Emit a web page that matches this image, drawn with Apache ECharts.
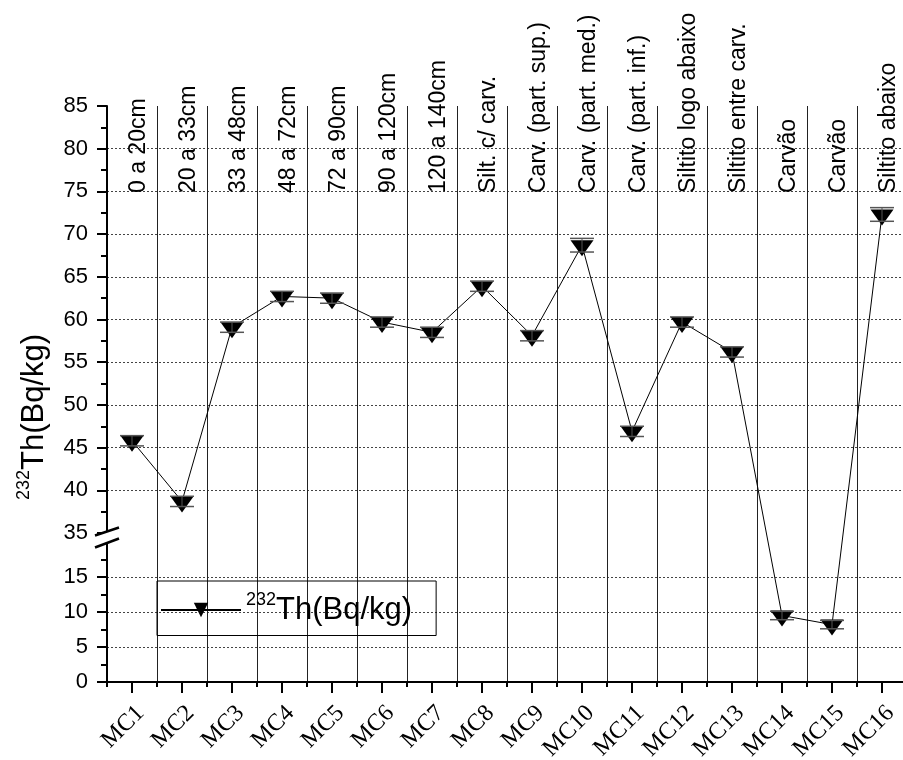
<!DOCTYPE html>
<html>
<head>
<meta charset="utf-8">
<title>232Th profile</title>
<script src="https://cdn.jsdelivr.net/npm/echarts@6.0.0/dist/echarts.min.js"></script>
<style>
  html, body { margin: 0; padding: 0; background: #fff; }
  #chart { width: 903px; height: 760px; }
</style>
</head>
<body>
<div id="chart"></div>
<script>
// samples and the layer each one comes from
const samples = ['MC1','MC2','MC3','MC4','MC5','MC6','MC7','MC8','MC9','MC10','MC11','MC12','MC13','MC14','MC15','MC16'];
const layers = ['0 a 20cm','20 a 33cm','33 a 48cm','48 a 72cm','72 a 90cm','90 a 120cm','120 a 140cm',
  'Silt. c/ carv.','Carv. (part. sup.)','Carv. (part. med.)','Carv. (part. inf.)',
  'Siltito logo abaixo','Siltito entre carv.','Carvão','Carvão','Siltito abaixo'];
const thValues = [45.8, 38.7, 59.1, 62.7, 62.5, 59.7, 58.5, 63.9, 58.1, 68.7, 46.9, 59.7, 56.2, 9.5, 8.2, 72.3];
const thErrors = [0.6, 0.6, 0.6, 0.6, 0.6, 0.6, 0.6, 0.6, 0.6, 0.8, 0.6, 0.6, 0.6, 0.6, 0.6, 0.8];

// broken y axis: two segments
const upperRange = [35, 85];
const lowerRange = [0, 20];
const tickStep = 5;

// layout (px)
const plotLeft = 107, plotWidth = 800;
const plotTop = 106, breakTop = 533, breakBottom = 542, plotBottom = 682;
const layerLabelY = 193;
const font = 'Liberation Sans';

// map a value onto the full-height hidden axis (px from bottom)
function brokenY(v) {
  const lowScale = (plotBottom - breakBottom) / (lowerRange[1] - lowerRange[0]);
  const upScale = (breakTop - plotTop) / (upperRange[1] - upperRange[0]);
  if (v <= lowerRange[1]) return (v - lowerRange[0]) * lowScale;
  return (plotBottom - breakTop) + (v - upperRange[0]) * upScale;
}

const chart = echarts.init(document.getElementById('chart'));

const yStyle = {
  axisLine: { show: true, lineStyle: { color: '#000', width: 2 } },
  axisTick: { show: true, inside: false, length: 10, lineStyle: { color: '#000', width: 2 } },
  minorTick: { show: true, splitNumber: 2, length: 6, lineStyle: { color: '#000', width: 2 } },
  axisLabel: { color: '#000', fontSize: 22, fontFamily: font, margin: 19 },
  splitLine: { show: true, showMinLine: false, showMaxLine: false,
    lineStyle: { type: [2, 2], color: '#444', width: 1 } }
};

const richTitle = {
  s: { fontSize: 18, fontFamily: font, color: '#000', fill: '#000', verticalAlign: 'top', lineHeight: 18 },
  m: { fontSize: 31, fontFamily: font, color: '#000', fill: '#000', lineHeight: 38 }
};

const sx = plotLeft, sy = (breakTop + breakBottom) / 2;

const option = {
  animation: false,
  backgroundColor: '#fff',
  grid: [
    { left: plotLeft, width: plotWidth, top: plotTop, height: plotBottom - plotTop, outerBoundsMode: 'none' },
    { left: plotLeft, width: plotWidth, top: plotTop, height: breakTop - plotTop, outerBoundsMode: 'none' },
    { left: plotLeft, width: plotWidth, top: breakBottom, height: plotBottom - breakBottom, outerBoundsMode: 'none' }
  ],
  xAxis: [
    {
      type: 'category', gridIndex: 0, data: samples, position: 'bottom',
      axisLine: { show: true, onZero: false, lineStyle: { color: '#000', width: 2 } },
      axisTick: { show: true, alignWithLabel: true, interval: 0, length: 11, lineStyle: { color: '#000', width: 2 } },
      axisLabel: { interval: 0, rotate: 45, margin: 19, verticalAlign: 'top',
        fontFamily: 'Liberation Serif', fontSize: 24, color: '#000' },
      splitLine: { show: true, interval: 0, showMinLine: false, lineStyle: { color: '#222', width: 1 } }
    },
    {
      type: 'category', gridIndex: 0, data: layers, position: 'top', offset: plotTop - layerLabelY,
      axisLine: { show: false }, axisTick: { show: false }, splitLine: { show: false },
      axisLabel: { interval: 0, rotate: 90, margin: 0, verticalAlign: 'top', lineHeight: 13,
        fontFamily: font, fontSize: 23, color: '#000' }
    },
    { type: 'category', gridIndex: 1, data: samples, show: false },
    {
      type: 'category', gridIndex: 2, data: samples,
      axisLine: { show: false },
      axisTick: { show: true, interval: 0, length: 5, lineStyle: { color: '#000', width: 2 } },
      axisLabel: { show: false }, splitLine: { show: false }
    }
  ],
  yAxis: [
    { type: 'value', gridIndex: 0, min: 0, max: plotBottom - plotTop, show: false },
    Object.assign({ type: 'value', gridIndex: 1, min: upperRange[0], max: upperRange[1], interval: tickStep }, yStyle),
    Object.assign({ type: 'value', gridIndex: 2, min: lowerRange[0], max: lowerRange[1], interval: tickStep }, yStyle, {
      axisLabel: Object.assign({}, yStyle.axisLabel, {
        formatter: v => (v === lowerRange[1] ? '' : String(v))
      })
    })
  ],
  legend: {
    left: 157, top: 581,
    padding: [10, 24, 10, 3],
    borderColor: '#000', borderWidth: 1, borderRadius: 0,
    itemWidth: 80, itemHeight: 18,
    data: ['Th232'],
    formatter: () => '{s|232}{m|Th(Bq/kg)}',
    textStyle: { color: '#000', rich: richTitle }
  },
  graphic: [
    {
      type: 'text', x: 34, y: 417, rotation: Math.PI / 2,
      style: { text: '{s|232}{m|Th(Bq/kg)}', rich: richTitle, align: 'center', verticalAlign: 'middle', fill: '#000' }
    },
    // axis break mark
    {
      type: 'polygon', z: 100,
      shape: { points: [[sx - 12, sy - 2], [sx + 12, sy - 10], [sx + 12, sy + 1], [sx - 12, sy + 10]] },
      style: { fill: '#fff' }
    },
    { type: 'line', z: 101, shape: { x1: sx - 12, y1: sy - 2, x2: sx + 12, y2: sy - 10 }, style: { stroke: '#000', lineWidth: 2.5 } },
    { type: 'line', z: 101, shape: { x1: sx - 12, y1: sy + 10, x2: sx + 12, y2: sy + 1 }, style: { stroke: '#000', lineWidth: 2.5 } }
  ],
  series: [
    {
      name: 'Th232',
      type: 'line',
      xAxisIndex: 0, yAxisIndex: 0,
      data: thValues.map(brokenY),
      symbol: 'path://M0,0L10,0L5,7Z',
      symbolSize: [23, 16],
      symbolOffset: [0, 3],
      showSymbol: true,
      lineStyle: { color: '#000', width: 1 },
      itemStyle: { color: '#000' },
      z: 3
    },
    {
      name: 'err',
      type: 'custom',
      xAxisIndex: 0, yAxisIndex: 0,
      z: 4,
      data: thValues.map((v, i) => [i, brokenY(v - thErrors[i]), brokenY(v + thErrors[i])]),
      encode: { x: 0, y: [1, 2] },
      renderItem: function (params, api) {
        const lo = api.coord([api.value(0), api.value(1)]);
        const hi = api.coord([api.value(0), api.value(2)]);
        const x = lo[0], half = 12;
        return {
          type: 'group',
          children: [
            { type: 'line', shape: { x1: x, y1: lo[1], x2: x, y2: hi[1] }, style: { stroke: '#555', lineWidth: 1 } },
            { type: 'line', shape: { x1: x - half, y1: lo[1], x2: x + half, y2: lo[1] }, style: { stroke: '#555', lineWidth: 1.5 } },
            { type: 'line', shape: { x1: x - half, y1: hi[1], x2: x + half, y2: hi[1] }, style: { stroke: '#555', lineWidth: 1.5 } }
          ]
        };
      }
    }
  ]
};

chart.setOption(option);
</script>
</body>
</html>
